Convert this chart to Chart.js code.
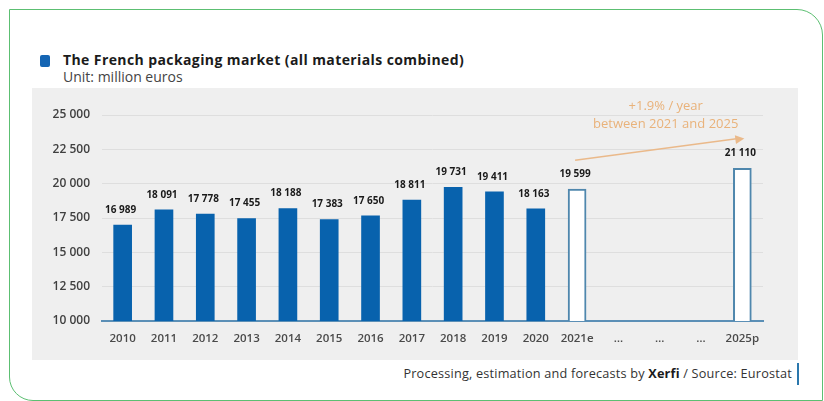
<!DOCTYPE html>
<html>
<head>
<meta charset="utf-8">
<script src="https://cdn.jsdelivr.net/npm/chart.js@4"></script>
<style>
  html, body { margin: 0; padding: 0; background: #fff; }
  body { width: 824px; height: 401px; position: relative; overflow: hidden; font-family: "Open Sans", sans-serif; }
  .frame {
    position: absolute; left: 9px; top: 9px; width: 812px; height: 390px;
    border: 1.5px solid #5cbf72;
    border-top-right-radius: 26px; border-bottom-left-radius: 24px;
  }
  .heading { position: absolute; left: 40px; top: 50px; }
  .heading .mark { position: absolute; left: 0; top: 5px; width: 10px; height: 12px; background: #1565b3; border-radius: 2px; }
  .heading .title { position: absolute; left: 23px; top: 0; white-space: nowrap; font-size: 14px; font-weight: 700; letter-spacing: 0.4px; color: #1b1b1b; }
  .heading .unit { position: absolute; left: 23px; top: 17px; white-space: nowrap; font-size: 14px; color: #444; }
  .panel { position: absolute; left: 32px; top: 88px; width: 766px; height: 272px; background: #efefef; }
  .footer { position: absolute; right: 32px; top: 364px; font-size: 12.7px; letter-spacing: 0.2px; color: #333; white-space: nowrap; }
  .footer b { color: #1b1b1b; }
  .footer-bar { position: absolute; left: 797px; top: 363px; width: 2px; height: 22px; background: #2b78ad; }
</style>
</head>
<body>
<div class="frame"></div>
<div class="heading">
  <div class="mark"></div>
  <div class="title">The French packaging market (all materials combined)</div>
  <div class="unit">Unit: million euros</div>
</div>
<div class="panel"><canvas id="market" width="766" height="272"></canvas></div>
<div class="footer">Processing, estimation and forecasts by <b>Xerfi</b> / Source: Eurostat</div>
<div class="footer-bar"></div>

<script>
// market size, million euros
const categories = ['2010', '2011', '2012', '2013', '2014', '2015', '2016', '2017', '2018', '2019', '2020', '2021e', '…', '…', '…', '2025p'];
const actualValues = [16989, 18091, 17778, 17455, 18188, 17383, 17650, 18811, 19731, 19411, 18163, null, null, null, null, null];
const forecastValues = [null, null, null, null, null, null, null, null, null, null, null, 19599, null, null, null, 21110];
const yTicks = [10000, 12500, 15000, 17500, 20000, 22500, 25000];
const growthNote = ['+1.9% / year', 'between 2021 and 2025'];

function fmt(v) {
    return String(v).replace(/\B(?=(\d{3})+(?!\d))/g, ' ');
}

// value labels above each bar
const valueLabels = {
    id: 'valueLabels',
    afterDatasetsDraw(chart) {
        const ctx = chart.ctx;
        ctx.save();
        ctx.font = 'bold 10px "Open Sans"';
        ctx.fillStyle = '#1a1a1a';
        ctx.textAlign = 'center';
        ctx.textBaseline = 'middle';
        chart.data.datasets.forEach((ds, i) => {
            chart.getDatasetMeta(i).data.forEach((bar, j) => {
                if (ds.data[j] == null) return;
                ctx.fillText(fmt(ds.data[j]), bar.x - 2, bar.y - 15);
            });
        });
        ctx.restore();
    }
};

// growth arrow from the 2021 estimate to the 2025 forecast
const growthArrow = {
    id: 'growthArrow',
    afterDatasetsDraw(chart) {
        const ctx = chart.ctx;
        const x = chart.scales.x, y = chart.scales.y;
        const i0 = categories.indexOf('2021e'), i1 = categories.indexOf('2025p');
        const x0 = x.getPixelForValue(i0), x1 = x.getPixelForValue(i1);
        const y0 = y.getPixelForValue(forecastValues[i0]) - 29;
        const y1 = y.getPixelForValue(forecastValues[i1]) - 30;
        ctx.save();
        ctx.strokeStyle = '#eab98a';
        ctx.fillStyle = '#eab98a';
        ctx.lineWidth = 1.5;
        ctx.beginPath();
        ctx.moveTo(x0 - 2, y0);
        ctx.lineTo(x1 - 4, y1);
        ctx.stroke();
        const a = Math.atan2(y1 - y0, x1 - x0);
        ctx.beginPath();
        ctx.moveTo(x1 + 2, y1);
        ctx.lineTo(x1 + 2 - 10 * Math.cos(a - 0.45), y1 - 10 * Math.sin(a - 0.45));
        ctx.lineTo(x1 + 2 - 10 * Math.cos(a + 0.45), y1 - 10 * Math.sin(a + 0.45));
        ctx.closePath();
        ctx.fill();
        ctx.font = '13px "Open Sans"';
        ctx.fillStyle = '#e9b27a';
        ctx.textAlign = 'center';
        ctx.textBaseline = 'middle';
        const cx = (x0 + x1) / 2 + 6;
        ctx.fillText(growthNote[0], cx, y1 - 32);
        ctx.fillText(growthNote[1], cx, y1 - 14);
        ctx.restore();
    }
};

const chart = new Chart(document.getElementById('market'), {
    type: 'bar',
    data: {
        labels: categories,
        datasets: [
            {
                data: actualValues,
                backgroundColor: '#0862ad',
                borderWidth: 0,
                barThickness: 18
            },
            {
                data: forecastValues,
                backgroundColor: '#ffffff',
                borderColor: '#4f87ad',
                borderWidth: 2,
                borderSkipped: false,
                barThickness: 18
            }
        ]
    },
    options: {
        responsive: false,
        animation: false,
        grouped: false,
        layout: { padding: { left: 0, right: 35, top: 27, bottom: 0 } },
        plugins: { legend: { display: false }, tooltip: { enabled: false } },
        scales: {
            x: {
                grid: { display: false, drawTicks: false },
                border: { color: '#5b8fb6', width: 2 },
                ticks: { color: '#4a4a4a', font: { family: 'Open Sans', size: 11.5, weight: '600' }, padding: 11, maxRotation: 0, autoSkip: false },
                afterFit(scale) { scale.height = 39; }
            },
            y: {
                min: 10000,
                max: 25000,
                afterBuildTicks(scale) { scale.ticks = yTicks.map(v => ({ value: v })); },
                grid: { color: '#dedede', lineWidth: 1, drawTicks: false },
                border: { display: false },
                ticks: { color: '#3f3f3f', font: { family: 'Open Sans', size: 12, weight: '600' }, padding: 12, callback: v => fmt(v) },
                afterFit(scale) { scale.width = 70; }
            }
        }
    },
    plugins: [valueLabels, growthArrow]
});
</script>
</body>
</html>
